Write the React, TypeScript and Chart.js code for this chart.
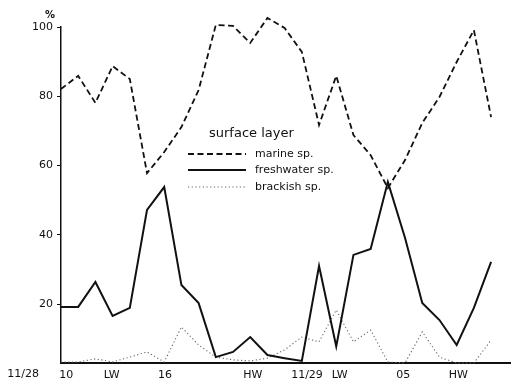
import React, { useEffect, useRef } from "react";
import { Chart, registerables } from "chart.js";

Chart.register(...registerables);

// sample index 0..25 (roughly hourly samples, 11/28 10h -> 11/29 ~11h)
const sampleIndex = Array.from({ length: 26 }, (_, i) => i);

const marine = [
  82.1, 85.9, 78.1, 88.7, 85.0, 57.8, 63.9, 71.1, 81.8, 100.6, 100.3, 95.4, 102.6,
  99.7, 92.8, 71.7, 85.9, 68.8, 63.0, 53.5, 61.6, 72.3, 79.8, 89.9, 99.1, 74.0,
];
const freshwater = [
  19.2, 19.2, 26.4, 16.6, 18.9, 47.2, 53.8, 25.5, 20.3, 4.7, 6.2, 10.5, 5.3,
  4.4, 3.6, 31.0, 7.8, 34.2, 35.9, 55.3, 39.1, 20.3, 15.4, 8.2, 18.9, 32.2,
];
const brackish = [
  3.3, 3.3, 4.2, 3.3, 4.7, 6.2, 3.3, 13.4, 8.2, 4.7, 3.9, 3.6, 4.4,
  6.8, 10.5, 9.1, 18.3, 9.1, 12.5, 3.3, 3.0, 12.0, 4.7, 3.0, 3.0, 9.6,
];

const xTickPositions = [0.3, 2.95, 6.05, 11.15, 14.3, 16.2, 19.9, 23.1];
const xTickLabels = ["10", "LW", "16", "HW", "11/29", "LW", "05", "HW"];
const dateLabel = "11/28";
const dateLabelPos = -2.2;
const yTickValues = [20, 40, 60, 80, 100];
const yUnit = "%";

const legendTitle = "surface layer";
const seriesNames = ["marine sp.", "freshwater sp.", "brackish sp."];

const FONT = '"DejaVu Sans", sans-serif';
const INK = "#111";

const lineStyles = [
  { color: INK, width: 1.8, dash: [6, 3.5] },
  { color: INK, width: 2, dash: [] as number[] },
  { color: "#666", width: 1.1, dash: [1.2, 2.5] },
];

const extrasPlugin = {
  id: "extras",
  afterDraw(chart: any) {
    const ctx = chart.ctx as CanvasRenderingContext2D;
    const xs = chart.scales.x;
    ctx.save();
    ctx.fillStyle = INK;
    ctx.textAlign = "center";
    ctx.textBaseline = "middle";
    ctx.font = `11px ${FONT}`;
    ctx.fillText(dateLabel, xs.getPixelForValue(dateLabelPos), 374);
    ctx.font = `bold 10px ${FONT}`;
    ctx.fillText(yUnit, 50, 15);

    // legend
    ctx.textAlign = "left";
    ctx.font = `13px ${FONT}`;
    ctx.fillText(legendTitle, 209, 134);
    const rows = [154, 170, 187];
    ctx.font = `11px ${FONT}`;
    rows.forEach((y, i) => {
      const st = lineStyles[i];
      ctx.beginPath();
      ctx.strokeStyle = st.color;
      ctx.lineWidth = st.width;
      ctx.setLineDash(st.dash);
      ctx.moveTo(188, y);
      ctx.lineTo(246, y);
      ctx.stroke();
      ctx.setLineDash([]);
      ctx.fillStyle = INK;
      ctx.fillText(seriesNames[i], 255, y);
    });
    ctx.restore();
  },
};

export default function App() {
  const ref = useRef<HTMLCanvasElement | null>(null);
  useEffect(() => {
    if (!ref.current) return;
    const series = [marine, freshwater, brackish];
    const chart = new Chart(ref.current, {
      type: "line",
      data: {
        datasets: series.map((vals, i) => ({
          label: seriesNames[i],
          data: vals.map((v, k) => ({ x: sampleIndex[k], y: v })),
          borderColor: lineStyles[i].color,
          borderWidth: lineStyles[i].width,
          borderDash: lineStyles[i].dash,
          pointRadius: 0,
          tension: 0,
          fill: false,
          clip: false as any,
        })),
      },
      options: {
        animation: false,
        responsive: true,
        maintainAspectRatio: false,
        layout: { padding: { top: 27, right: 2, left: 0, bottom: 0 } },
        plugins: { legend: { display: false }, tooltip: { enabled: false } },
        scales: {
          x: {
            type: "linear",
            min: 0,
            max: 26.1,
            grid: { display: false },
            border: { display: true, color: INK, width: 2 },
            afterBuildTicks: (s: any) => {
              s.ticks = xTickPositions.map((v) => ({ value: v }));
            },
            afterFit: (s: any) => {
              s.height = 21;
            },
            ticks: {
              autoSkip: false,
              maxRotation: 0,
              padding: -2,
              color: INK,
              font: { family: FONT, size: 11 },
              callback: (_v: any, i: number) => xTickLabels[i],
            },
          },
          y: {
            type: "linear",
            min: 3,
            max: 100,
            grid: {
              display: true,
              drawOnChartArea: false,
              drawTicks: true,
              tickLength: 4,
              color: INK,
            },
            border: { display: true, color: INK, width: 1.5 },
            afterBuildTicks: (s: any) => {
              s.ticks = yTickValues.map((v) => ({ value: v }));
            },
            afterFit: (s: any) => {
              s.width = 61;
            },
            ticks: {
              padding: 4,
              color: INK,
              font: { family: FONT, size: 11 },
            },
          },
        },
      },
      plugins: [extrasPlugin],
    });
    return () => chart.destroy();
  }, []);
  return (
    <div style={{ position: "fixed", left: 0, top: 0, width: 512, height: 384, background: "#fff" }}>
      <canvas ref={ref} />
    </div>
  );
}
